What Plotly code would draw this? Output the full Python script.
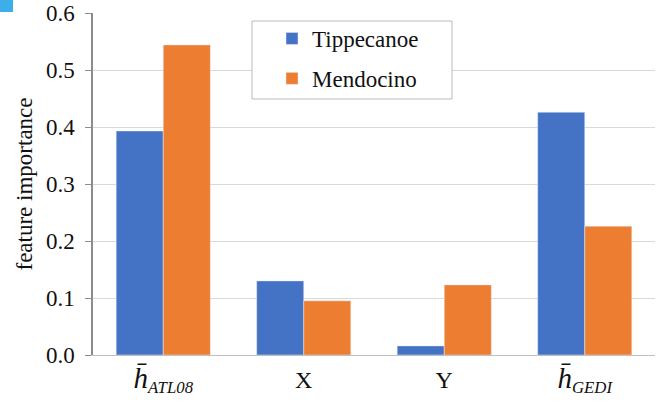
import plotly.graph_objects as go

H_STYLE = '<span style="font-size:29px"><i>h\u0304</i></span>'
categories = [H_STYLE + "<sub><i>ATL08</i></sub>", "X", "Y", H_STYLE + "<sub><i>GEDI</i></sub>"]
tippecanoe = [0.393, 0.130, 0.016, 0.426]
mendocino = [0.544, 0.095, 0.123, 0.226]
y_ticks = [0.0, 0.1, 0.2, 0.3, 0.4, 0.5, 0.6]
y_tick_labels = ["0.0", "0.1", "0.2", "0.3", "0.4", "0.5", "0.6"]

font = "Liberation Serif"
L, R, T, B = 93, 5, 13, 50
PW, PH = 660 - L - R, 405 - T - B

fig = go.Figure()
fig.add_trace(go.Bar(x=categories, y=tippecanoe, name="Tippecanoe", marker_color="#4472C4", legendgroup="a"))
fig.add_trace(go.Bar(x=categories, y=mendocino, name="Mendocino", marker_color="#ED7D31", legendgroup="b"))

fig.update_layout(
    width=660, height=405,
    margin=dict(l=L, r=R, t=T, b=B, autoexpand=False),
    paper_bgcolor="white", plot_bgcolor="white",
    barmode="group", bargap=0.33, bargroupgap=0,
    font=dict(family=font, size=20, color="#222"),
    legend=dict(
        x=(272 - L) / PW, y=(355 - 17) / PH, xanchor="left", yanchor="top",
        borderwidth=0, bgcolor="rgba(0,0,0,0)",
        font=dict(family=font, size=23, color="#111"),
        itemwidth=30, tracegroupgap=7,
    ),
    xaxis=dict(
        showline=True, linecolor="#BFBFBF", linewidth=1,
        tickfont=dict(family=font, size=24, color="#111"),
        ticks="", showgrid=False, automargin=False, ticklabelstandoff=3,
    ),
    yaxis=dict(
        range=[0, 0.6], tickvals=y_ticks, ticktext=y_tick_labels,
        showline=True, linecolor="#8C8C8C", linewidth=1.5,
        ticks="outside", ticklen=6, tickcolor="#8C8C8C",
        showgrid=True, gridcolor="#D9D9D9", gridwidth=1,
        tickfont=dict(family=font, size=23, color="#111"),
        ticklabelstandoff=6,
        title=dict(text="feature importance", font=dict(family=font, size=23, color="#111"), standoff=7),
        zeroline=False, automargin=False,
    ),
)

# legend box
fig.add_shape(type="rect", xref="paper", yref="paper",
              x0=(252 - L) / PW, x1=(452 - L) / PW, y0=(355 - 99) / PH, y1=(355 - 21) / PH,
              fillcolor="white", line=dict(color="#BBBBBB", width=1), layer="above")
# small corner mark
fig.add_shape(type="rect", xref="paper", yref="paper",
              x0=-L / PW, x1=(13 - L) / PW, y0=(355 - 12) / PH, y1=(355 + T) / PH,
              fillcolor="#3DAEE9", line_width=0, layer="above")

fig.write_html("out.html", config={"displayModeBar": False},
               post_script="document.body.style.margin='0';")
